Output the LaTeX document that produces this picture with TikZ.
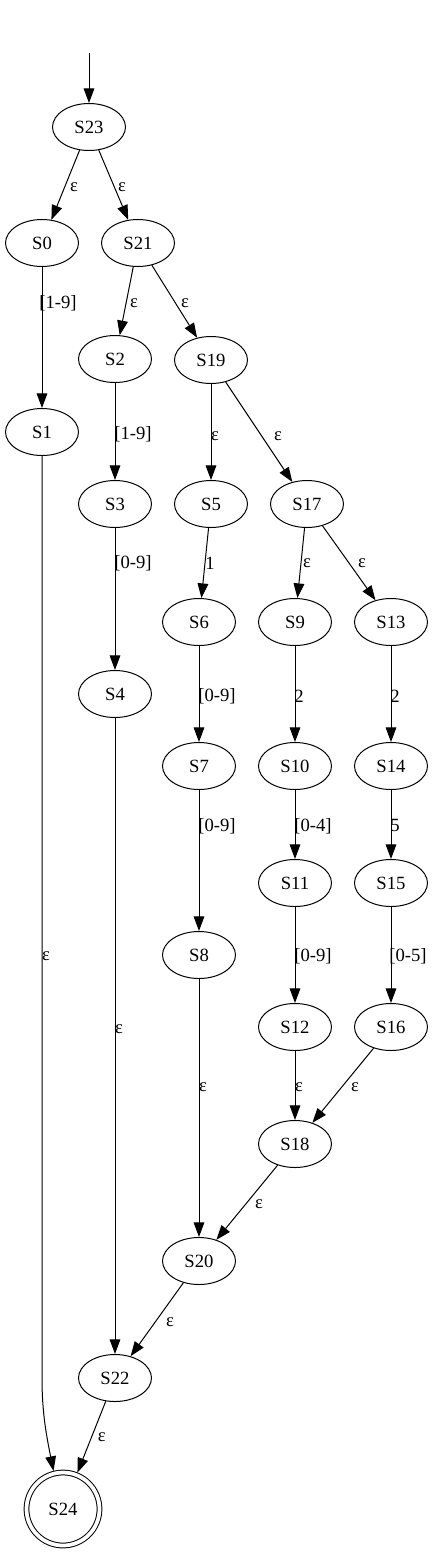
\documentclass[tikz,border=0pt]{standalone}
\usepackage{fontspec}
\setmainfont{Liberation Serif}
\usetikzlibrary{arrows.meta, shapes.geometric}

\begin{document}
\begin{tikzpicture}[
        x=0.75pt, y=-0.75pt,
        font=\fontsize{14}{16}\selectfont,
        trans/.style={-{Triangle[length=11pt,width=8pt]}, line width=0.75pt},
        state/.style={draw, ellipse, line width=0.75pt, minimum width=54.75pt, minimum height=35.25pt, inner sep=0pt},
        accept/.style={draw, circle, double, double distance=2.8pt, line width=0.75pt, minimum size=54.75pt, inner sep=0pt, outer sep=2pt},
        lbl/.style={inner sep=0pt}
      ]
        \useasboundingbox (0,0) rectangle (433,1554);
        \coordinate (start) at (89,53);
        \node[state] (S23) at (89,127) {S23};
        \node[state] (S0) at (42,243) {S0};
        \node[state] (S21) at (138,243) {S21};
        \node[state] (S2) at (115,359) {S2};
        \node[state] (S19) at (211,360) {S19};
        \node[state] (S1) at (42,432) {S1};
        \node[state] (S3) at (115,504) {S3};
        \node[state] (S5) at (211,504) {S5};
        \node[state] (S17) at (307,504) {S17};
        \node[state] (S6) at (199,622) {S6};
        \node[state] (S9) at (295,622) {S9};
        \node[state] (S13) at (391,622) {S13};
        \node[state] (S4) at (115,694) {S4};
        \node[state] (S7) at (199,766) {S7};
        \node[state] (S10) at (295,766) {S10};
        \node[state] (S14) at (391,766) {S14};
        \node[state] (S11) at (295,883) {S11};
        \node[state] (S15) at (391,883) {S15};
        \node[state] (S8) at (199,955) {S8};
        \node[state] (S12) at (295,1027) {S12};
        \node[state] (S16) at (391,1027) {S16};
        \node[state] (S18) at (295,1144) {S18};
        \node[state] (S20) at (199,1261) {S20};
        \node[state] (S22) at (115,1378) {S22};
        \node[accept] (S24) at (63,1509) {S24};
        % transitions
        \draw[trans] (start) -- (S23);
        \draw[trans] (S23) -- node[lbl, pos=.53, xshift=7pt] {ε} (S0);
        \draw[trans] (S23) -- node[lbl, pos=.53, xshift=5.7pt] {ε} (S21);
        \draw[trans] (S0) -- node[lbl, pos=.255, xshift=12pt] {[1-9]} (S1);
        \draw[trans] (S21) -- node[lbl, pos=.53, xshift=5.9pt] {ε} (S2);
        \draw[trans] (S21) -- node[lbl, pos=.52, xshift=7.2pt] {ε} (S19);
        \draw[trans] (S2) -- node[lbl, pos=.526, xshift=13.5pt] {[1-9]} (S3);
        \draw[trans] (S19) -- node[lbl, pos=.54, xshift=3pt] {ε} (S5);
        \draw[trans] (S19) -- node[lbl, pos=.54, xshift=12.2pt] {ε} (S17);
        \draw[trans] (S3) -- node[lbl, pos=.246, xshift=13.5pt] {[0-9]} (S4);
        \draw[trans] (S5) -- node[lbl, pos=.5, xshift=3.75pt] {1} (S6);
        \draw[trans] (S17) -- node[lbl, pos=.5, xshift=4.5pt] {ε} (S9);
        \draw[trans] (S17) -- node[lbl, pos=.5, xshift=9.75pt] {ε} (S13);
        \draw[trans] (S6) -- node[lbl, pos=.52, xshift=13.5pt] {[0-9]} (S7);
        \draw[trans] (S9) -- node[lbl, pos=.52, xshift=3pt] {2} (S10);
        \draw[trans] (S13) -- node[lbl, pos=.52, xshift=3pt] {2} (S14);
        \draw[trans] (S7) -- node[lbl, pos=.255, xshift=13.5pt] {[0-9]} (S8);
        \draw[trans] (S10) -- node[lbl, pos=.52, xshift=13.5pt] {[0-4]} (S11);
        \draw[trans] (S14) -- node[lbl, pos=.52, xshift=3pt] {5} (S15);
        \draw[trans] (S11) -- node[lbl, pos=.51, xshift=13.5pt] {[0-9]} (S12);
        \draw[trans] (S15) -- node[lbl, pos=.51, xshift=12.75pt] {[0-5]} (S16);
        \draw[trans] (S8) -- node[lbl, pos=.419, xshift=3pt] {ε} (S20);
        \draw[trans] (S12) -- node[lbl, pos=.52, xshift=3pt] {ε} (S18);
        \draw[trans] (S16) -- node[lbl, pos=.52, xshift=9.9pt] {ε} (S18);
        \draw[trans] (S18) -- node[lbl, pos=.52, xshift=9.9pt] {ε} (S20);
        \draw[trans] (S20) -- node[lbl, pos=.534, xshift=11.1pt] {ε} (S22);
        \draw[trans] (S4) -- node[lbl, pos=.489, xshift=3pt] {ε} (S22);
        \draw[trans] (S22) -- node[lbl, pos=.51, xshift=7.8pt] {ε} (S24);
        \draw[trans] (S1) -- node[lbl, pos=.543, xshift=3pt] {ε} (S1 |- S22)
          .. controls +(0,35) and +(-7,-35) .. (S24.104);
      \end{tikzpicture}
\end{document}
